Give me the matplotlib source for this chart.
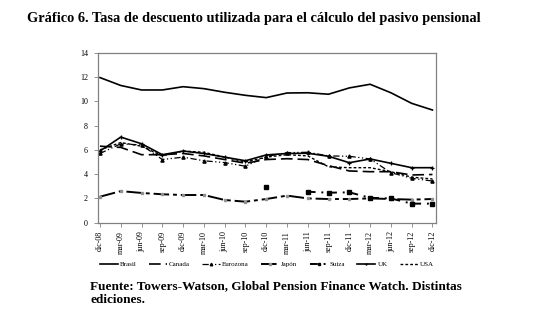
import numpy as np
import matplotlib
matplotlib.use("Agg")
import matplotlib.pyplot as plt

plt.rcParams['font.family'] = ['Liberation Serif', 'DejaVu Serif']

periods = ["dic-08", "mar-09", "jun-09", "sep-09", "dic-09", "mar-10", "jun-10",
           "sep-10", "dic-10", "mar-11", "jun-11", "sep-11", "dic-11", "mar-12",
           "jun-12", "sep-12", "dic-12"]

brasil = [11.95, 11.3, 10.93, 10.93, 11.2, 11.04, 10.74, 10.49, 10.3, 10.68, 10.7,
          10.58, 11.1, 11.4, 10.7, 9.83, 9.28]
canada = [6.3, 6.2, 5.6, 5.6, 5.7, 5.5, 5.2, 4.9, 5.2, 5.27, 5.2, 4.7, 4.26, 4.2,
          4.2, 3.93, 3.97]
eurozona = [5.7, 6.5, 6.4, 5.2, 5.4, 5.1, 4.95, 4.65, 5.45, 5.77, 5.8, 5.5, 5.47,
            5.25, 4.12, 3.66, 3.43]
japon = [2.14, 2.6, 2.45, 2.34, 2.28, 2.28, 1.87, 1.73, 1.95, 2.23, 2.0, 1.95,
         1.95, 2.0, 1.95, 1.9, 1.95]
suiza = [np.nan, np.nan, np.nan, np.nan, np.nan, np.nan, np.nan, np.nan, 2.97,
         np.nan, 2.55, 2.47, 2.5, 2.05, 2.0, 1.57, 1.57]
uk = [5.9, 7.05, 6.5, 5.6, 5.9, 5.7, 5.4, 5.1, 5.58, 5.7, 5.72, 5.47, 4.94, 5.25,
      4.89, 4.53, 4.53]
usa = [6.0, 6.6, 6.3, 5.5, 5.9, 5.8, 5.4, 5.0, 5.4, 5.6, 5.5, 4.6, 4.53, 4.53,
       4.2, 3.75, 3.6]

fig = plt.figure(figsize=(5.53, 3.31), dpi=100)
ax = fig.add_axes([0.1767, 0.3272, 0.6113, 0.5136])

x = np.arange(len(periods))
ax.plot(x, brasil, color='black', lw=1.2, label='Brasil')
ax.plot(x, canada, color='black', lw=1.2, dashes=(7, 3), label='Canada')
ax.plot(x, eurozona, color='black', lw=0.9, dashes=(5, 2, 1, 2, 1, 2),
        marker='^', ms=2.3, label='Eurozona')
ax.plot(x, japon, color='black', lw=1.4, dashes=(8, 2, 2, 2),
        marker='s', ms=1.8, mfc='#909090', mec='#909090', label='Japón')
ax.plot(x, suiza, color='black', lw=1.4, dashes=(4, 3, 1, 3),
        marker='s', ms=2.4, label='Suiza')
ax.plot(x, uk, color='black', lw=1.2, marker='+', ms=2.6, mew=0.9, label='UK')
ax.plot(x, usa, color='black', lw=1.0, dashes=(2, 1.5), label='USA')

ax.set_xlim(-0.11, 16.16)
ax.set_ylim(0, 14)
ax.set_yticks(range(0, 15, 2))
ax.set_xticks(x)
ax.set_xticklabels(periods, rotation=90, fontsize=5.8)
ax.tick_params(axis='y', labelsize=5.8, length=3, width=0.6, color='#808080', pad=4)
ax.tick_params(axis='x', length=3, width=0.6, color='#808080', pad=3)
for s in ax.spines.values():
    s.set_color('#808080')
    s.set_linewidth(0.9)

ax.legend(loc='upper center', bbox_to_anchor=(0.5, -0.19), ncol=7, frameon=False,
          fontsize=5.0, handlelength=2.6, columnspacing=1.75, handletextpad=0.3,
          markerscale=0.8)

fig.text(0.049, 0.945, "Gráfico 6. Tasa de descuento utilizada para el cálculo del pasivo pensional",
         fontsize=10.4, fontweight='bold', va='center', ha='left')
fig.text(0.163, 0.115, "Fuente: Towers-Watson, Global Pension Finance Watch. Distintas\nediciones.",
         fontsize=9.5, fontweight='bold', va='center', ha='left', linespacing=1.2)

fig.savefig("out.png", dpi=100)
